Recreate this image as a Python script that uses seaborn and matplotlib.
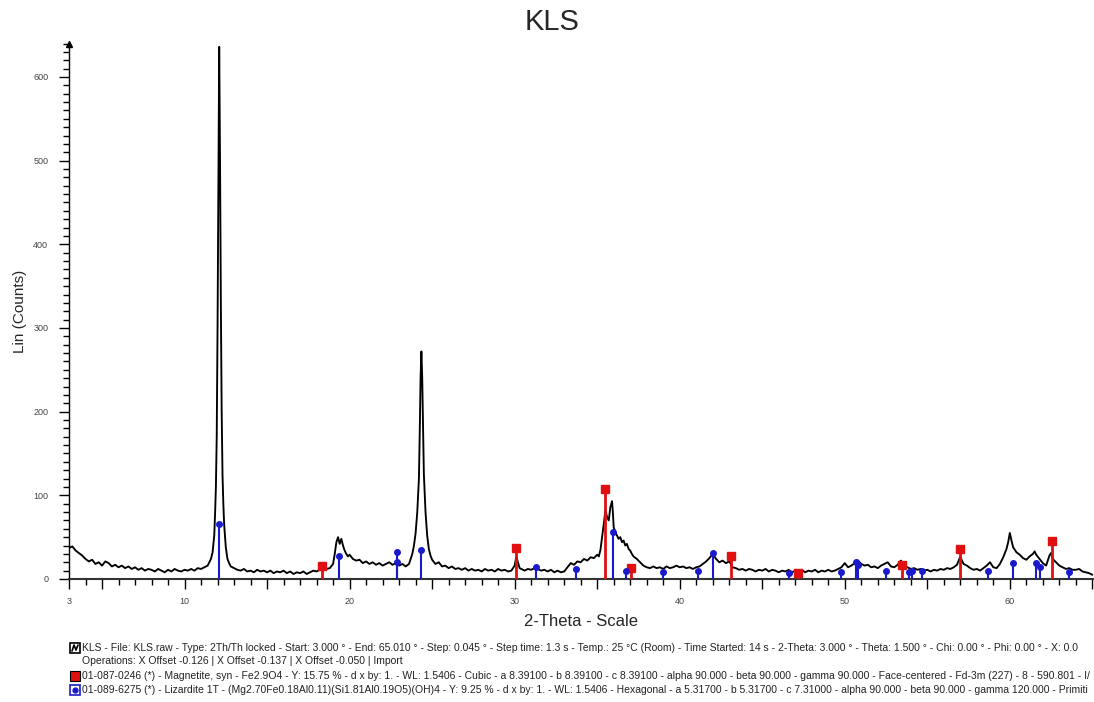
import numpy as np
import pandas as pd
import seaborn as sns
import matplotlib
matplotlib.use("Agg")
import matplotlib.pyplot as plt
from matplotlib.patches import Rectangle
from matplotlib.lines import Line2D

# ---------------- data ----------------
two_theta = [
    3.0, 3.2, 3.4, 3.6, 3.8, 4.0, 4.2, 4.4, 4.6, 4.8,
    5.0, 5.2, 5.4, 5.6, 5.8, 6.0, 6.2, 6.4, 6.6, 6.8,
    7.0, 7.2, 7.4, 7.6, 7.8, 8.0, 8.2, 8.4, 8.6, 8.8,
    9.0, 9.2, 9.4, 9.6, 9.8, 10.0, 10.2, 10.4, 10.6, 10.8,
    11.0, 11.2, 11.4,
    11.6, 11.7, 11.8, 11.85, 11.9, 11.95, 12.0, 12.05, 12.1, 12.15,
    12.2, 12.25, 12.3, 12.35, 12.4, 12.5, 12.6, 12.7, 12.8,
    13.0, 13.2, 13.4, 13.6, 13.8, 14.0, 14.2, 14.4, 14.6, 14.8,
    15.0, 15.2, 15.4, 15.6, 15.8, 16.0, 16.2, 16.4, 16.6, 16.8,
    17.0, 17.2, 17.4, 17.6, 17.8, 18.0, 18.2, 18.4, 18.6, 18.8,
    19.0, 19.1, 19.2, 19.3, 19.4, 19.5, 19.6, 19.7, 19.8, 19.9,
    20.0, 20.2, 20.4, 20.6, 20.8, 21.0, 21.2, 21.4, 21.6, 21.8,
    22.0, 22.2, 22.4, 22.6, 22.8, 23.0, 23.2, 23.4, 23.6,
    23.8, 23.9, 24.0, 24.1, 24.2, 24.25, 24.3, 24.35, 24.4, 24.45,
    24.5, 24.6, 24.7, 24.8, 24.9, 25.0, 25.2, 25.4, 25.6, 25.8,
    26.0, 26.2, 26.4, 26.6, 26.8, 27.0, 27.2, 27.4, 27.6, 27.8,
    28.0, 28.2, 28.4, 28.6, 28.8, 29.0, 29.2, 29.4, 29.6, 29.8,
    30.0, 30.1, 30.2, 30.3, 30.4, 30.6, 30.8, 31.0, 31.2, 31.4,
    31.6, 31.8, 32.0, 32.2, 32.4, 32.6, 32.8, 33.0, 33.2, 33.4,
    33.6, 33.8, 34.0, 34.2, 34.4, 34.6, 34.8, 35.0, 35.1, 35.2,
    35.3, 35.4, 35.5, 35.6, 35.7, 35.8, 35.9, 35.95, 36.0, 36.1,
    36.2, 36.3, 36.4, 36.5, 36.6, 36.7, 36.8, 36.9, 37.0, 37.1,
    37.2, 37.4, 37.6, 37.8, 38.0, 38.2, 38.4, 38.6, 38.8, 39.0,
    39.2, 39.4, 39.6, 39.8, 40.0, 40.2, 40.4, 40.6, 40.8, 41.0,
    41.2, 41.4, 41.6, 41.8, 42.0, 42.1, 42.2, 42.4, 42.6, 42.8,
    43.0, 43.1, 43.2, 43.4, 43.6, 43.8, 44.0, 44.2, 44.4, 44.6,
    44.8, 45.0, 45.2, 45.4, 45.6, 45.8, 46.0, 46.2, 46.4, 46.6,
    46.8, 47.0, 47.2, 47.4, 47.6, 47.8, 48.0, 48.2, 48.4, 48.6,
    48.8, 49.0, 49.2, 49.4, 49.6, 49.8, 50.0, 50.2, 50.4, 50.6,
    50.8, 51.0, 51.2, 51.4, 51.6, 51.8, 52.0, 52.2, 52.4, 52.6,
    52.8, 53.0, 53.2, 53.4, 53.6, 53.8, 54.0, 54.2, 54.4, 54.6,
    54.8, 55.0, 55.2, 55.4, 55.6, 55.8, 56.0, 56.2, 56.4, 56.6,
    56.8, 57.0, 57.1, 57.2, 57.4, 57.6, 57.8, 58.0, 58.2, 58.4,
    58.6, 58.8, 59.0, 59.2, 59.4, 59.6, 59.8, 59.9, 60.0, 60.1,
    60.2, 60.4, 60.6, 60.8, 61.0, 61.2, 61.4, 61.5, 61.6, 61.8,
    62.0, 62.2, 62.4, 62.5, 62.6, 62.8, 63.0, 63.2, 63.4, 63.6,
    63.8, 64.0, 64.2, 64.4, 64.6, 64.8, 65.0,
]
counts = [
    37, 39, 34, 31, 28, 24, 21, 23, 18, 20,
    16, 21, 19, 15, 17, 14, 16, 13, 15, 12,
    14, 11, 13, 10, 12, 11, 9, 12, 10, 8,
    11, 9, 12, 10, 9, 11, 10, 12, 10, 13,
    12, 14, 16,
    24, 32, 52, 78, 110, 170, 300, 480, 636, 500,
    330, 200, 125, 90, 65, 38, 24, 19, 15,
    13, 11, 10, 12, 9, 10, 8, 11, 9, 10,
    8, 10, 7, 9, 8, 10, 7, 9, 6, 8,
    7, 9, 6, 8, 10, 9, 11, 10, 12, 13,
    18, 30, 44, 50, 42, 48, 40, 34, 30, 27,
    29, 24, 22, 23, 19, 21, 18, 20, 17, 19,
    16, 18, 20, 17, 19, 16, 18, 15, 18,
    30, 40, 55, 80, 120, 175, 240, 272, 240, 180,
    125, 80, 52, 36, 28, 23, 18, 20, 15, 16,
    13, 15, 12, 13, 11, 13, 10, 12, 10, 11,
    9, 12, 10, 11, 9, 12, 10, 11, 9, 10,
    16, 27, 20, 13, 12, 10, 12, 11, 13, 12,
    10, 11, 9, 11, 8, 10, 8, 9, 14, 19,
    17, 21, 20, 24, 22, 26, 25, 29, 27, 35,
    50, 66, 82, 74, 70, 86, 93, 80, 62, 56,
    52, 48, 50, 44, 46, 40, 42, 36, 34, 30,
    27, 24, 20, 16, 14, 13, 15, 13, 14, 12,
    15, 13, 14, 16, 14, 15, 13, 14, 12, 14,
    15, 18, 21, 25, 30, 27, 24, 20, 22, 19,
    21, 18, 14, 13, 11, 12, 10, 12, 11, 9,
    11, 10, 12, 9, 11, 10, 8, 10, 9, 11,
    8, 10, 9, 11, 8, 10, 9, 11, 8, 10,
    9, 11, 9, 10, 12, 14, 19, 14, 16, 19,
    22, 18, 16, 17, 14, 15, 13, 16, 18, 20,
    15, 14, 17, 22, 16, 14, 12, 13, 11, 12,
    10, 11, 9, 11, 10, 12, 11, 13, 12, 14,
    17, 27, 22, 18, 16, 13, 11, 12, 10, 13,
    16, 20, 14, 13, 18, 26, 36, 44, 55, 46,
    38, 32, 29, 25, 23, 27, 30, 33, 29, 24,
    19, 16, 28, 31, 24, 20, 16, 14, 12, 13,
    11, 11, 12, 9, 8, 7, 5,
]

magnetite_pos = [18.3, 30.1, 35.45, 37.05, 43.1, 47.15, 53.45, 57.0, 62.55]
magnetite_int = [15, 37, 107, 13, 28, 7, 17, 36, 45]

lizardite_pos = [12.1, 19.35, 22.85, 22.9, 24.35, 31.3, 33.7, 35.95, 36.75,
                 39.0, 41.1, 42.0, 46.6, 49.8, 50.7, 50.8, 52.5, 53.9, 54.1,
                 54.7, 58.7, 60.2, 61.6, 61.8, 63.6]
lizardite_int = [66, 28, 32, 20, 35, 14, 12, 56, 9,
                 8, 9, 31, 7, 8, 20, 17, 10, 8, 10,
                 9, 9, 19, 19, 14, 8]

x_tick_vals = [3, 5, 10, 15, 20, 25, 30, 35, 40, 45, 50, 55, 60, 65]
x_tick_labels = ["3", "", "10", "", "20", "", "30", "", "40", "", "50", "", "60", ""]
y_tick_vals = [0, 100, 200, 300, 400, 500, 600]

legend_lines = [
    "KLS - File: KLS.raw - Type: 2Th/Th locked - Start: 3.000 \u00b0 - End: 65.010 \u00b0 - Step: 0.045 \u00b0 - Step time: 1.3 s - Temp.: 25 \u00b0C (Room) - Time Started: 14 s - 2-Theta: 3.000 \u00b0 - Theta: 1.500 \u00b0 - Chi: 0.00 \u00b0 - Phi: 0.00 \u00b0 - X: 0.0",
    "Operations: X Offset -0.126 | X Offset -0.137 | X Offset -0.050 | Import",
    "01-087-0246 (*) - Magnetite, syn - Fe2.9O4 - Y: 15.75 % - d x by: 1. - WL: 1.5406 - Cubic - a 8.39100 - b 8.39100 - c 8.39100 - alpha 90.000 - beta 90.000 - gamma 90.000 - Face-centered - Fd-3m (227) - 8 - 590.801 - I/",
    "01-089-6275 (*) - Lizardite 1T - (Mg2.70Fe0.18Al0.11)(Si1.81Al0.19O5)(OH)4 - Y: 9.25 % - d x by: 1. - WL: 1.5406 - Hexagonal - a 5.31700 - b 5.31700 - c 7.31000 - alpha 90.000 - beta 90.000 - gamma 120.000 - Primiti",
]

# ---------------- plot ----------------
sns.set_theme(style="white")
plt.rcParams['font.family'] = ['Liberation Sans', 'DejaVu Sans']

RED = "#e01010"
BLUE = "#1a1acc"

W, H = 1094, 702
fig = plt.figure(figsize=(W / 100, H / 100), dpi=100)
ax = fig.add_axes([69 / W, 1 - 579 / H, (1094 - 69) / W, (579 - 43.5) / H])

df = pd.DataFrame({"two_theta": two_theta, "counts": counts})
sns.lineplot(data=df, x="two_theta", y="counts", ax=ax, color="black",
             lw=1.35, estimator=None, sort=True, zorder=3)

ax.vlines(magnetite_pos, 0, magnetite_int, color=RED, lw=2.0, zorder=4)
ax.plot(magnetite_pos, magnetite_int, ls="none", marker="s", ms=5.5,
        color=RED, zorder=5, clip_on=False)
ax.vlines(lizardite_pos, 0, lizardite_int, color=BLUE, lw=1.5, zorder=4)
ax.plot(lizardite_pos, lizardite_int, ls="none", marker="o", ms=4,
        color=BLUE, zorder=5, clip_on=False)

ax.set_xlim(3, 65.1)
ax.set_ylim(0, 640)

for s in ["top", "right"]:
    ax.spines[s].set_visible(False)
ax.spines["left"].set_color("black")
ax.spines["bottom"].set_color("#333333")
ax.spines["left"].set_linewidth(1.0)
ax.spines["bottom"].set_linewidth(1.5)
# arrow at top of y axis
ax.plot([3], [640], marker="^", color="black", ms=4, clip_on=False, zorder=6)

ax.set_xticks(x_tick_vals)
ax.set_xticklabels(x_tick_labels)
ax.set_xticks(np.arange(4, 66, 1), minor=True)
ax.set_yticks(y_tick_vals)
ax.set_yticklabels([str(v) for v in y_tick_vals])
ax.set_yticks(np.arange(0, 641, 10), minor=True)
ax.tick_params(axis="x", which="major", pad=6)
ax.tick_params(axis="y", which="major", pad=8)
ax.tick_params(axis="both", which="major", direction="out", length=7,
               width=1, color="black", labelsize=6.5, labelcolor="#444444",
               bottom=True, left=True)
ax.tick_params(axis="both", which="minor", direction="out", length=4,
               width=1, color="black", bottom=True, left=True)

ax.set_xlabel("2-Theta - Scale", fontsize=12, labelpad=6)
ax.set_ylabel("Lin (Counts)", fontsize=11, labelpad=4)
fig.text(552 / W, 1 - 22 / H, "KLS", ha="center", va="center", fontsize=21)

# legend block under the chart
ys = [648, 661, 676, 690]
for i, (txt, yp) in enumerate(zip(legend_lines, ys)):
    fig.text(82 / W, 1 - yp / H, txt, ha="left", va="center", fontsize=7.5,
             color="#222222")
# icons
iw, ih = 10 / W, 10 / H
fig.patches.append(Rectangle((70 / W, 1 - 653 / H), iw, ih, transform=fig.transFigure,
                             facecolor="white", edgecolor="black", lw=1.2))
fig.lines.append(Line2D([72 / W, 74 / W, 76 / W, 78 / W],
                        [1 - 651 / H, 1 - 645 / H, 1 - 650 / H, 1 - 645 / H],
                        transform=fig.transFigure, color="black", lw=1.2))
fig.patches.append(Rectangle((70 / W, 1 - 681 / H), iw, ih, transform=fig.transFigure,
                             facecolor=RED, edgecolor="black", lw=0.8))
fig.patches.append(Rectangle((70 / W, 1 - 695 / H), iw, ih, transform=fig.transFigure,
                             facecolor="white", edgecolor=BLUE, lw=1.2))
fig.lines.append(Line2D([75 / W], [1 - 690 / H], transform=fig.transFigure,
                        marker="o", ms=3.5, color=BLUE))

fig.savefig("out.png", dpi=100)
